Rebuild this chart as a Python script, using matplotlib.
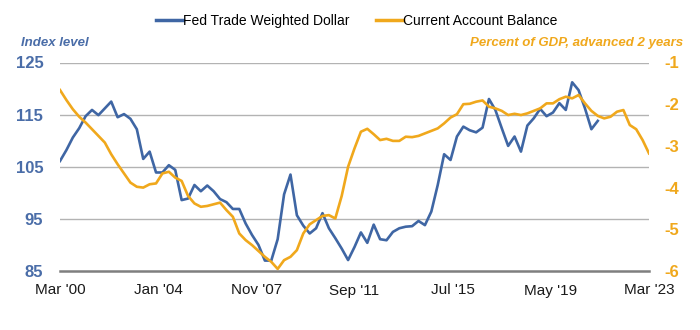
import matplotlib
matplotlib.use("Agg")
import matplotlib.pyplot as plt
from matplotlib.lines import Line2D

# ---- data (quarterly, starting Mar 2000) ----
dollar = [106.1, 108.2, 110.6, 112.4, 114.7, 115.9, 114.9, 116.2, 117.5, 114.5,
          115.1, 114.2, 112.2, 106.5, 107.9, 103.9, 103.9, 105.3, 104.4, 98.6,
          98.9, 101.5, 100.3, 101.4, 100.3, 98.8, 98.2, 96.9, 96.9, 94.1,
          91.9, 90.0, 87.0, 87.0, 91.1, 99.7, 103.5, 95.7, 93.7, 92.2,
          93.2, 96.1, 93.2, 91.3, 89.3, 87.1, 89.6, 92.4, 90.4, 93.9,
          91.1, 90.9, 92.5, 93.2, 93.5, 93.6, 94.6, 93.8, 96.4, 101.5,
          107.4, 106.3, 110.8, 112.7, 112.0, 111.6, 112.5, 118.0, 115.9, 112.4,
          109.0, 110.8, 107.9, 112.9, 114.3, 116.1, 114.7, 115.4, 117.2, 115.9,
          121.2, 119.7, 116.2, 112.2, 113.8]

current_account = [-1.66, -1.90, -2.12, -2.30, -2.44, -2.60, -2.76, -2.92, -3.20, -3.44,
                   -3.66, -3.88, -3.98, -4.00, -3.92, -3.90, -3.66, -3.62, -3.76, -3.84,
                   -4.20, -4.38, -4.46, -4.44, -4.40, -4.36, -4.54, -4.70, -5.10, -5.26,
                   -5.38, -5.52, -5.66, -5.78, -5.95, -5.74, -5.66, -5.50, -5.10, -4.88,
                   -4.78, -4.68, -4.66, -4.74, -4.20, -3.50, -3.06, -2.66, -2.59, -2.72,
                   -2.86, -2.83, -2.88, -2.88, -2.78, -2.79, -2.76, -2.70, -2.64, -2.58,
                   -2.46, -2.32, -2.24, -2.00, -1.99, -1.94, -1.91, -2.06, -2.10, -2.16,
                   -2.26, -2.23, -2.26, -2.22, -2.16, -2.10, -1.98, -1.98, -1.88, -1.82,
                   -1.86, -1.78, -1.98, -2.16, -2.28, -2.34, -2.30, -2.18, -2.14, -2.50,
                   -2.60, -2.86, -3.18]

tick_labels = ["Mar '00", "Jan '04", "Nov '07", "Sep '11", "Jul '15", "May '19", "Mar '23"]
tick_months = [0, 46, 92, 138, 184, 230, 276]   # months since Mar 2000
left_ticks = [85, 95, 105, 115, 125]
right_ticks = [-6, -5, -4, -3, -2, -1]

BLUE = "#3F66A4"
ORANGE = "#F0A81C"
BLUE_TXT = "#4A6DA8"
ORANGE_TXT = "#F0A81C"
FONT = "Liberation Sans"

plt.rcParams['font.family'] = [FONT, 'DejaVu Sans']

x_dollar = [3 * i for i in range(len(dollar))]
x_ca = [3 * i for i in range(len(current_account))]

fig = plt.figure(figsize=(7.0, 3.3), dpi=100)
ax = fig.add_axes([60 / 700, 1 - 271 / 330, 589 / 700, (271 - 62.5) / 330])
ax2 = ax.twinx()

ax.plot(x_dollar, dollar, color=BLUE, lw=1.9, solid_joinstyle='round', zorder=3)
ax2.plot(x_ca, current_account, color=ORANGE, lw=1.9, solid_joinstyle='round', zorder=3)

ax.set_xlim(0, 276)
ax.set_ylim(85, 125)
ax2.set_ylim(-6, -1)

ax.set_yticks(left_ticks)
ax.set_yticklabels([str(v) for v in left_ticks])
ax2.set_yticks(right_ticks)
ax2.set_yticklabels([str(v) for v in right_ticks])

ax.set_xticks(tick_months)
ax.set_xticklabels(tick_labels)

for t in ax.get_yticklabels():
    t.set_fontweight('bold'); t.set_color(BLUE_TXT); t.set_fontsize(12)
for t in ax2.get_yticklabels():
    t.set_fontweight('bold'); t.set_color(ORANGE_TXT); t.set_fontsize(12)
for t in ax.get_xticklabels():
    t.set_fontsize(11); t.set_color("#1a1a1a")

ax.tick_params(axis='both', length=0)
ax2.tick_params(axis='both', length=0)
ax.tick_params(axis='y', pad=12)
ax2.tick_params(axis='y', pad=11)
ax.tick_params(axis='x', pad=9)

for a in (ax, ax2):
    for s in ['top', 'right', 'left']:
        a.spines[s].set_visible(False)
ax2.spines['bottom'].set_visible(False)
ax.spines['bottom'].set_color("#7f7f7f")
ax.spines['bottom'].set_linewidth(1.8)

for v in left_ticks[1:]:
    ax.axhline(v, color="#b3b3b3", lw=1.0, zorder=1)

fig.text(21 / 700, 1 - 43 / 330, "Index level", color=BLUE_TXT, fontsize=9.5,
         fontweight='bold', fontstyle='italic', ha='left', va='center')
fig.text(683 / 700, 1 - 43 / 330, "Percent of GDP, advanced 2 years", color=ORANGE_TXT,
         fontsize=9.5, fontweight='bold', fontstyle='italic', ha='right', va='center')

handles = [Line2D([], [], color=BLUE, lw=2.5), Line2D([], [], color=ORANGE, lw=2.5)]
fig.legend(handles, ["Fed Trade Weighted Dollar", "Current Account Balance"],
           loc='center', bbox_to_anchor=(357 / 700, 1 - 21 / 330), ncol=2, frameon=False,
           fontsize=10, handlelength=1.9, handletextpad=0.05, columnspacing=1.9)

fig.savefig("out.png", dpi=100)
